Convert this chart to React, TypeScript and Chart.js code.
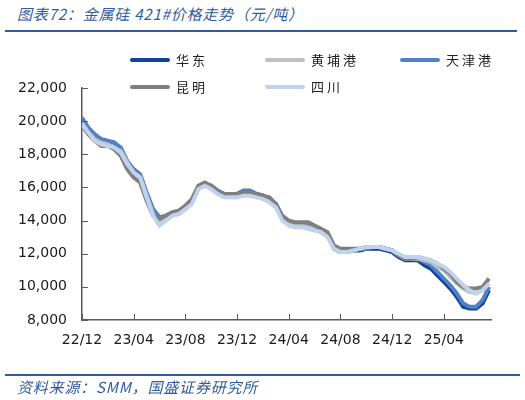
import React, { useEffect, useRef } from "react";
import { Chart, registerables } from "chart.js";

Chart.register(...registerables);

// month offsets from 2022-12 (half-month steps)
const monthPos = [
  0, 0.5, 1, 1.5, 2, 2.5, 3, 3.5, 4, 4.5, 5, 5.5, 6, 6.5, 7, 7.5, 8, 8.5, 9, 9.5,
  10, 10.5, 11, 11.5, 12, 12.5, 13, 13.5, 14, 14.5, 15, 15.5, 16, 16.5, 17, 17.5,
  18, 18.5, 19, 19.5, 20, 20.5, 21, 21.5, 22, 22.5, 23, 23.5, 24, 24.5, 25, 25.5,
  26, 26.5, 27, 27.5, 28, 28.5, 29, 29.5, 30, 30.5, 31, 31.5,
];

const tickValues = [0, 4, 8, 12, 16, 20, 24, 28];
const tickLabels = ["22/12", "23/04", "23/08", "23/12", "24/04", "24/08", "24/12", "25/04"];

const huadong = [
  20100, 19500, 19100, 18900, 18800, 18700, 18300, 17500, 17000, 16700, 15600, 14600, 14100, 14200, 14400, 14500,
  14700, 15200, 16000, 16200, 16100, 15800, 15600, 15600, 15600, 15800, 15800, 15600, 15500, 15300, 15000, 14200,
  13900, 13800, 13800, 13800, 13600, 13400, 13200, 12300, 12100, 12100, 12200, 12200, 12300, 12300, 12300, 12200,
  12100, 11800, 11600, 11600, 11600, 11300, 11100, 10700, 10300, 9900, 9400, 8800, 8700, 8700, 9000, 9800,
];
const huangpu = [
  19900, 19300, 18900, 18700, 18600, 18400, 18200, 17500, 16900, 16600, 15500, 14400, 13900, 14100, 14300, 14400,
  14700, 15100, 15900, 16100, 16000, 15700, 15500, 15400, 15400, 15600, 15600, 15500, 15400, 15200, 14800, 14100,
  13800, 13700, 13700, 13600, 13500, 13300, 13100, 12300, 12100, 12100, 12200, 12300, 12400, 12400, 12400, 12300,
  12200, 11900, 11700, 11700, 11700, 11600, 11500, 11200, 11000, 10600, 10200, 9900, 9700, 9600, 9800, 10200,
];
const tianjin = [
  20200, 19600, 19200, 18900, 18800, 18700, 18400, 17600, 17100, 16800, 15700, 14700, 14200, 14300, 14500, 14600,
  14800, 15200, 16000, 16200, 16100, 15800, 15600, 15600, 15600, 15800, 15800, 15600, 15500, 15300, 15000, 14200,
  13900, 13800, 13800, 13800, 13600, 13400, 13200, 12400, 12200, 12200, 12200, 12300, 12400, 12400, 12400, 12300,
  12200, 11900, 11700, 11700, 11700, 11500, 11300, 10900, 10500, 10100, 9600, 9000, 8800, 8800, 9200, 10000,
];
const kunming = [
  19700, 19200, 18800, 18500, 18500, 18300, 17900, 17100, 16600, 16300, 15200, 14300, 14100, 14300, 14500, 14600,
  14900, 15300, 16100, 16300, 16100, 15800, 15600, 15600, 15600, 15700, 15700, 15600, 15500, 15400, 15000, 14300,
  14000, 13900, 13900, 13900, 13700, 13500, 13300, 12500, 12300, 12300, 12300, 12300, 12300, 12400, 12400, 12300,
  12200, 11900, 11700, 11700, 11800, 11700, 11600, 11400, 11100, 10800, 10300, 10000, 9900, 9900, 10000, 10500,
];
const sichuan = [
  19800, 19300, 18800, 18600, 18500, 18400, 18100, 17400, 16900, 16600, 15400, 14300, 13700, 14000, 14300, 14400,
  14700, 15000, 15900, 16100, 15900, 15600, 15400, 15400, 15400, 15500, 15500, 15400, 15300, 15100, 14800, 14000,
  13700, 13600, 13600, 13500, 13400, 13300, 13000, 12300, 12100, 12100, 12200, 12300, 12400, 12400, 12400, 12300,
  12200, 12000, 11800, 11800, 11800, 11700, 11600, 11400, 11200, 10900, 10500, 10100, 9800, 9600, 9800, 10200,
];

const seriesNames = ["华东", "黄埔港", "天津港", "昆明", "四川"];
const seriesColors = ["#12439a", "#bfbfbf", "#4f81c7", "#7f7f7f", "#bfd3ee"];
const seriesData = [huadong, huangpu, tianjin, kunming, sichuan];
const drawOrder = [4, 2, 3, 1, 0];

const blue = "#2f5c9e";

const inwardTicks = {
  id: "inwardTicks",
  afterDraw(chart: any) {
    const { ctx, chartArea, scales } = chart;
    ctx.save();
    ctx.strokeStyle = "#595959";
    ctx.lineWidth = 1;
    scales.x.ticks.forEach((t: any) => {
      const px = Math.round(scales.x.getPixelForValue(t.value)) + 0.5;
      ctx.beginPath();
      ctx.moveTo(px, chartArea.bottom);
      ctx.lineTo(px, chartArea.bottom - 6);
      ctx.stroke();
    });
    scales.y.ticks.forEach((t: any) => {
      const py = Math.round(scales.y.getPixelForValue(t.value)) + 0.5;
      ctx.beginPath();
      ctx.moveTo(chartArea.left, py);
      ctx.lineTo(chartArea.left + 6, py);
      ctx.stroke();
    });
    ctx.restore();
  },
};

export default function App() {
  const ref = useRef<HTMLCanvasElement | null>(null);

  useEffect(() => {
    if (!ref.current) return;
    const chart = new Chart(ref.current, {
      type: "line",
      data: {
        datasets: seriesNames.map((name, i) => ({
          label: name,
          data: monthPos.map((m, j) => ({ x: m, y: seriesData[i][j] })),
          borderColor: seriesColors[i],
          backgroundColor: seriesColors[i],
          borderWidth: 4,
          pointRadius: 0,
          tension: 0,
          order: drawOrder[i],
        })),
      },
      options: {
        responsive: false,
        animation: false,
        layout: { padding: { top: 88, right: 34, bottom: 0, left: 0 } },
        plugins: { legend: { display: false }, tooltip: { enabled: false } },
        scales: {
          x: {
            type: "linear",
            min: 0,
            max: 31.65,
            afterBuildTicks: (scale: any) => {
              scale.ticks = tickValues.map((v) => ({ value: v }));
            },
            afterFit: (scale: any) => {
              scale.height = 80;
            },
            grid: { display: false, drawTicks: false },
            border: { display: true, color: "#595959", width: 1.5 },
            ticks: {
              padding: 12,
              maxRotation: 0,
              autoSkip: false,
              color: "#1a1a1a",
              font: { family: "DejaVu Sans", size: 14 },
              callback: (_v: any, i: number) => tickLabels[i],
            },
          },
          y: {
            min: 8000,
            max: 22000,
            afterFit: (scale: any) => {
              scale.width = 82;
            },
            grid: { display: false, drawTicks: false },
            border: { display: true, color: "#595959", width: 1.5 },
            ticks: {
              stepSize: 2000,
              padding: 15,
              color: "#1a1a1a",
              font: { family: "DejaVu Sans", size: 14 },
              callback: (v: any) => Number(v).toLocaleString("en-US"),
            },
          },
        },
      },
      plugins: [inwardTicks],
    });
    return () => chart.destroy();
  }, []);

  const legendCols = [130, 265, 400];
  const legendRows = [60, 87];

  return (
    <div
      style={{
        position: "absolute",
        left: 0,
        top: 0,
        width: 525,
        height: 400,
        background: "#fff",
        overflow: "hidden",
        fontFamily: "'Noto Sans CJK SC', sans-serif",
      }}
    >
      <div
        style={{
          position: "absolute",
          left: 17,
          top: 4,
          fontSize: 15,
          lineHeight: "20px",
          color: blue,
          fontStyle: "italic",
          letterSpacing: 0.8,
          whiteSpace: "nowrap",
        }}
      >
        图表72：金属硅 421#价格走势（元/吨）
      </div>
      <div style={{ position: "absolute", left: 5, top: 30, width: 512, height: 2, background: blue }} />
      <canvas ref={ref} width={525} height={400} style={{ position: "absolute", left: 0, top: 0, width: 525, height: 400 }} />
      {seriesNames.map((name, i) => {
        const col = legendCols[i % 3];
        const row = legendRows[Math.floor(i / 3)];
        return (
          <div key={name} style={{ position: "absolute", left: col, top: row - 10, height: 20, display: "flex", alignItems: "center" }}>
            <div style={{ width: 40, height: 4, borderRadius: 2, background: seriesColors[i] }} />
            <span style={{ marginLeft: 6, fontSize: 13, letterSpacing: 3, color: "#222", lineHeight: "20px", whiteSpace: "nowrap" }}>{name}</span>
          </div>
        );
      })}
      <div style={{ position: "absolute", left: 5, top: 374, width: 515, height: 2, background: blue }} />
      <div
        style={{
          position: "absolute",
          left: 17,
          top: 377,
          fontSize: 15,
          lineHeight: "20px",
          color: blue,
          fontStyle: "italic",
          letterSpacing: 0.8,
          whiteSpace: "nowrap",
        }}
      >
        资料来源：SMM，国盛证券研究所
      </div>
    </div>
  );
}
